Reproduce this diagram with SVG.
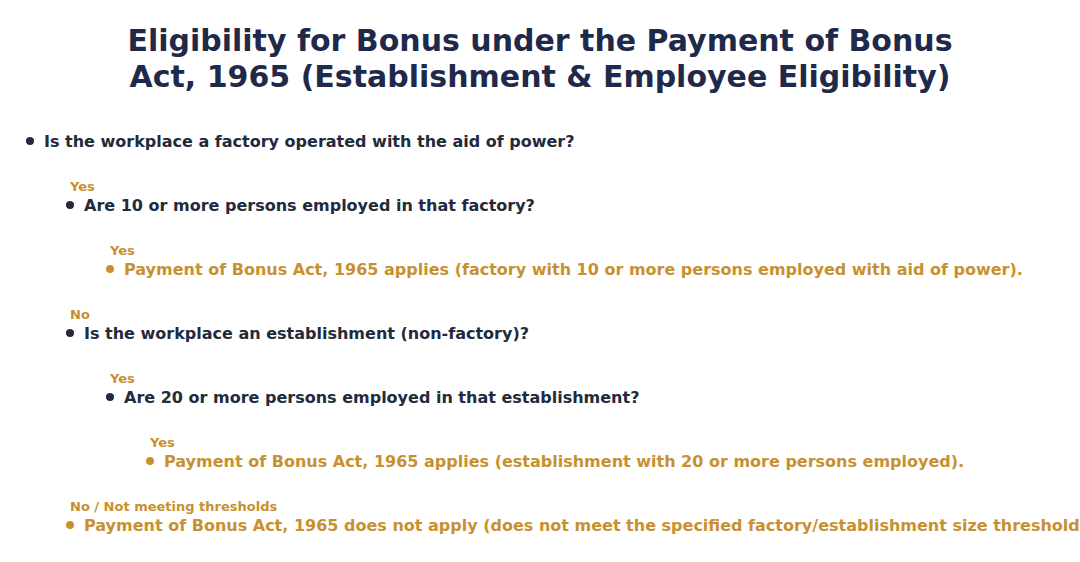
<svg xmlns="http://www.w3.org/2000/svg" width="1080" height="562" viewBox="0 0 1080 562">
<style>
text{font-family:"DejaVu Sans","Liberation Sans",sans-serif;font-weight:bold}
.title{font-size:30px;fill:#1f2a4a;text-anchor:middle}
.q{font-size:16px;fill:#222a3b}
.a{font-size:16px;fill:#c8902f}
.lbl{font-size:13px;fill:#c8902f}
.bq{fill:#222a3b}
.ba{fill:#c8902f}
</style>
<rect width="1080" height="562" fill="#ffffff"/>
<g id="title">
<text class="title" x="540" y="51">Eligibility for Bonus under the Payment of Bonus</text>
<text class="title" x="540" y="87">Act, 1965 (Establishment &amp; Employee Eligibility)</text>
</g>
<g id="connectors">
<text class="lbl" x="70" y="191">Yes</text>
<text class="lbl" x="110" y="255">Yes</text>
<text class="lbl" x="70" y="319">No</text>
<text class="lbl" x="110" y="383">Yes</text>
<text class="lbl" x="150" y="447">Yes</text>
<text class="lbl" x="70" y="511">No / Not meeting thresholds</text>
</g>
<g id="q1"><circle class="bq" cx="30" cy="141" r="4"/><text class="q" x="44" y="147">Is the workplace a factory operated with the aid of power?</text></g>
<g id="q2"><circle class="bq" cx="70" cy="205" r="4"/><text class="q" x="84" y="211">Are 10 or more persons employed in that factory?</text></g>
<g id="r1"><circle class="ba" cx="110" cy="269" r="4"/><text class="a" x="124" y="275">Payment of Bonus Act, 1965 applies (factory with 10 or more persons employed with aid of power).</text></g>
<g id="q3"><circle class="bq" cx="70" cy="333" r="4"/><text class="q" x="84" y="339">Is the workplace an establishment (non-factory)?</text></g>
<g id="q4"><circle class="bq" cx="110" cy="397" r="4"/><text class="q" x="124" y="403">Are 20 or more persons employed in that establishment?</text></g>
<g id="r2"><circle class="ba" cx="150" cy="461" r="4"/><text class="a" x="164" y="467">Payment of Bonus Act, 1965 applies (establishment with 20 or more persons employed).</text></g>
<g id="r3"><circle class="ba" cx="70" cy="525" r="4"/><text class="a" x="84" y="531">Payment of Bonus Act, 1965 does not apply (does not meet the specified factory/establishment size thresholds).</text></g>
</svg>
